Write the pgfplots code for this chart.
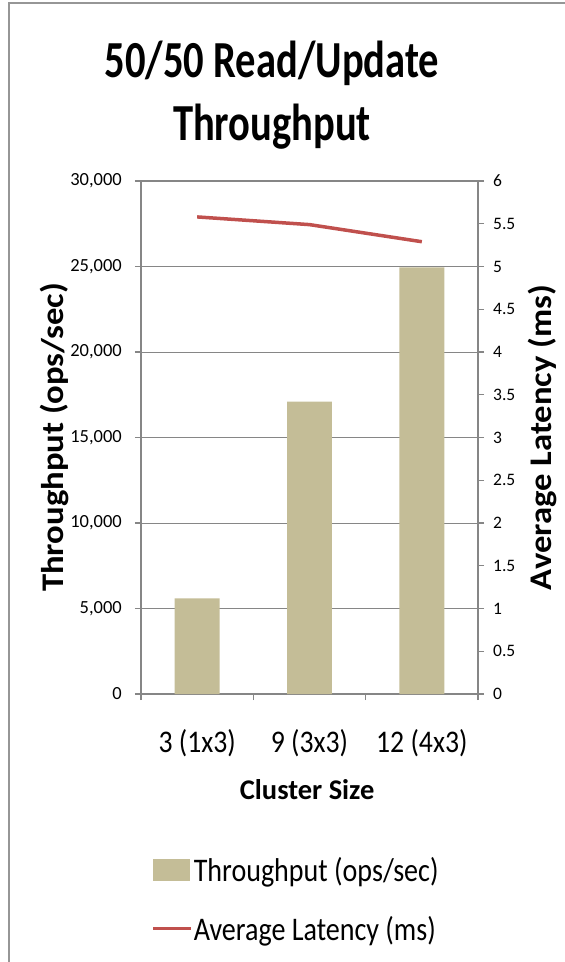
\documentclass[border=0pt]{standalone}
\usepackage{pgfplots}
\pgfplotsset{compat=1.18}
\usepackage{fontspec}
\setmainfont{Carlito}
\newfontfamily\titlefont{Carlito}[FakeStretch=0.78]
\newfontfamily\legfont{Carlito}[FakeStretch=0.85]
\newfontfamily\xtfont{Carlito}[FakeStretch=0.88]
\newfontfamily\ylabfont{Carlito}[FakeStretch=1.1]
\definecolor{barcol}{RGB}{196,189,151}
\definecolor{linecol}{RGB}{192,80,77}
\definecolor{axisgray}{RGB}{134,134,134}
\definecolor{framegray}{RGB}{150,150,150}
\begin{document}
\begin{tikzpicture}[x=1pt,y=1pt]
\useasboundingbox (0,0) rectangle (565,-962);
\draw[framegray, line width=1.5pt] (9,-962) -- (9,-3) -- (565,-3);
\node[anchor=base, font=\titlefont\bfseries\fontsize{52}{52}\selectfont] at (272,-77) {50/50 Read/Update};
\node[anchor=base, font=\titlefont\bfseries\fontsize{52}{52}\selectfont] at (272,-140) {Throughput};
\begin{axis}[
  at={(141pt,-694pt)}, anchor=south west,
  scale only axis, width=337pt, height=513pt,
  xmin=-0.5, xmax=2.5, ymin=0, ymax=30000,
  axis line style={axisgray, line width=1.2pt},
  tick style={axisgray, line width=1.2pt},
  tick align=outside, major tick length=6pt,
  ytick pos=left, xtick pos=bottom,
  ytick={0,5000,...,30000},
  scaled y ticks=false,
  ymajorgrids, grid style={axisgray, line width=1pt},
  /pgf/number format/assume math mode=true,
  yticklabel style={/pgf/number format/1000 sep={,}, font=\fontsize{18.5}{18.5}\selectfont, inner sep=0pt, anchor=east, xshift=-13pt},
  xtick={-0.5,0.5,1.5,2.5}, xticklabels={},
  extra x ticks={0,1,2},
  extra x tick labels={3 (1x3),9 (3x3),12 (4x3)},
  extra x tick style={major tick length=0pt, xticklabel style={font=\xtfont\fontsize{31.5}{31.5}\selectfont, inner sep=0pt, anchor=base, yshift=-58pt}},
  ylabel={Throughput (ops/sec)},
  ylabel style={at={(axis description cs:-0.258,0.5)}, anchor=center, rotate=0, font=\ylabfont\bfseries\fontsize{31.5}{31.5}\selectfont},
  xlabel={Cluster Size},
  xlabel style={at={(axis description cs:0.493,-0.2066)}, anchor=base, font=\bfseries\fontsize{28.5}{28.5}\selectfont},
]
\addplot[ybar, bar width=0.4, fill=barcol, draw=none] coordinates {(0,5600) (1,17100) (2,24950)};
\end{axis}
\begin{axis}[
  at={(141pt,-694pt)}, anchor=south west,
  scale only axis, width=337pt, height=513pt,
  xmin=-0.5, xmax=2.5, ymin=0, ymax=6,
  axis x line=none, axis y line*=right,
  axis line style={axisgray, line width=1.2pt},
  tick style={axisgray, line width=1.2pt},
  tick align=outside, major tick length=6pt,
  ytick={0,0.5,...,6},
  /pgf/number format/assume math mode=true,
  yticklabel style={font=\fontsize{17.5}{17.5}\selectfont, inner sep=0pt, anchor=west, xshift=9pt},
  ylabel={Average Latency (ms)},
  ylabel style={at={(axis description cs:1.19,0.5)}, anchor=center, rotate=0, font=\ylabfont\bfseries\fontsize{31.5}{31.5}\selectfont},
  legend style={at={(axis description cs:0.021,-0.314)}, anchor=north west, draw=none, fill=none,
    font=\legfont\fontsize{33}{33}\selectfont, row sep=33pt, nodes={inner sep=0pt},
    cells={anchor=west}, /tikz/every odd column/.style={column sep=1pt}},
]
\addlegendimage{legend image code/.code={\fill[barcol] (0pt,-10.5pt) rectangle (36pt,10.5pt);}}
\addlegendentry{Throughput (ops/sec)}
\addplot[color=linecol, line width=3.5pt, mark=none,
  legend image code/.code={\draw[linecol, line width=3.5pt] (0pt,0pt) -- (38pt,0pt);}]
  coordinates {(0,5.58) (1,5.49) (2,5.29)};
\addlegendentry{Average Latency (ms)}
\end{axis}
\end{tikzpicture}
\end{document}
